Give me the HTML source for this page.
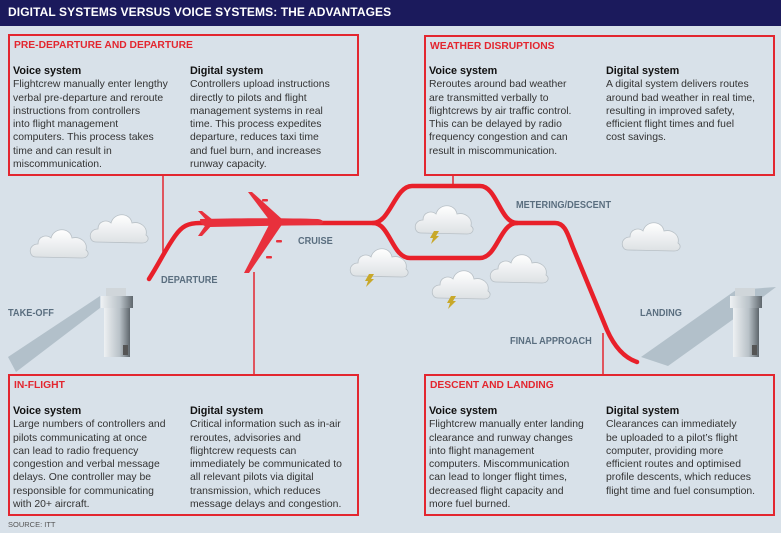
<!DOCTYPE html>
<html><head><meta charset="utf-8"><style>
body{margin:0;width:784px;height:533px;background:#fff;overflow:hidden;font-family:"Liberation Sans",sans-serif}
#bg{position:absolute;left:0;top:0;width:781px;height:533px;background:#d8e1e9}
#title{position:absolute;left:0;top:0;width:781px;height:26px;background:#1b1a5c;color:#fff;font-weight:bold;font-size:12px;line-height:24px;padding-left:8px;box-sizing:border-box;letter-spacing:0.1px}
.box{position:absolute;border:2px solid #e3262f;box-sizing:border-box}
.h{position:absolute;left:4px;top:4px;color:#e3262f;font-weight:bold;font-size:10.3px}
.col{position:absolute;top:29px;font-size:10.4px;line-height:13.3px;color:#333;white-space:nowrap}
.col b{color:#111;font-size:10.8px}
.lbl{position:absolute;color:#5a6e7f;font-weight:bold;font-size:10px;transform:scaleX(0.92);transform-origin:left}
svg{position:absolute;left:0;top:0}
</style></head><body>
<div id="bg"></div>
<div id="title">DIGITAL SYSTEMS VERSUS VOICE SYSTEMS: THE ADVANTAGES</div>
<svg width="784" height="533">
<defs>
<linearGradient id="cg" x1="0" y1="0" x2="0" y2="1"><stop offset="0" stop-color="#fff"/><stop offset="1" stop-color="#dde1e4"/></linearGradient>
<g id="cl"><path d="M6 30 C-2 30 -2 17 8 17 C8 9 17 7 21 11 C24 0 40 0 42 11 C50 9 58 15 56 23 C60 26 58 31 52 31 Z" fill="url(#cg)" stroke="#b8c0c6" stroke-width="0.8"/></g>
<g id="bolt"><path d="M4 0 L9 0 L6 5 L9 5 L1 13 L3 7 L0 7 Z" fill="#c8a82a"/></g>
<linearGradient id="tw" x1="0" y1="0" x2="1" y2="0"><stop offset="0" stop-color="#eef1f3"/><stop offset="0.6" stop-color="#b9c2c8"/><stop offset="1" stop-color="#5e666c"/></linearGradient>
</defs>
<g stroke="#e3262f" stroke-width="1.5">
<line x1="163" y1="175" x2="163" y2="253"/>
<line x1="453" y1="175" x2="453" y2="186"/>
<line x1="254" y1="272" x2="254" y2="374"/>
<line x1="603" y1="333" x2="603" y2="374"/>
</g>
<polygon points="8,357 16,372 100,308 100,296" fill="#a9b8c2" opacity="0.8"/>
<polygon points="641,357 668,366 735,318 776,287 736,290" fill="#a9b8c2" opacity="0.8"/>
<g>
<rect x="101" y="296" width="32" height="12" fill="url(#tw)"/>
<rect x="106" y="288" width="20" height="8" fill="#d0d6da"/>
<rect x="104" y="308" width="26" height="49" fill="url(#tw)"/>
<rect x="123" y="345" width="5" height="10" fill="#555"/>
</g>
<g>
<rect x="730" y="296" width="32" height="12" fill="url(#tw)"/>
<rect x="735" y="288" width="20" height="8" fill="#d0d6da"/>
<rect x="733" y="308" width="26" height="49" fill="url(#tw)"/>
<rect x="752" y="345" width="5" height="10" fill="#555"/>
</g>
<use href="#cl" x="30" y="227"/>
<use href="#cl" x="90" y="212"/>
<use href="#cl" x="415" y="203"/><use href="#bolt" x="430" y="231"/>
<use href="#cl" x="350" y="246"/><use href="#bolt" x="365" y="274"/>
<use href="#cl" x="432" y="268"/><use href="#bolt" x="447" y="296"/>
<use href="#cl" x="490" y="252"/>
<use href="#cl" x="622" y="220"/>
<g fill="none" stroke="#e8202a" stroke-width="4.5" stroke-linecap="round">
<path d="M149 279 C160 262 165 250 175 236 C182 226 188 223 200 223 L373 223 C390 223 395 186 412 186 L480 186 C497 186 500 223 517 223 L555 223 C566 223 568 236 574 250 L607 330 C615 348 625 358 637 362"/>
<path d="M373 223 C390 223 392 258 410 258 L480 258 C497 258 500 223 517 223"/>
</g>
<g fill="#e8303c">
<path d="M200 219 C240 218 290 218 318 219 C325 220 325 224 318 225 L210 227 C204 227 200 224 200 219 Z"/>
<path d="M248 192 L252 192 L283 220 L270 221 Z"/>
<path d="M270 223 L283 223 L249 273 L244 273 Z"/>
<path d="M198 211 L202 211 L213 220 L207 221 Z"/>
<path d="M207 223 L213 224 L202 236 L198 236 Z"/>
<rect x="262" y="199" width="6" height="2.5" rx="1"/>
<rect x="276" y="240" width="6" height="2.5" rx="1"/>
<rect x="266" y="256" width="6" height="2.5" rx="1"/>
</g>
</svg>
<div class="lbl" style="left:161px;top:275px">DEPARTURE</div>
<div class="lbl" style="left:298px;top:236px">CRUISE</div>
<div class="lbl" style="left:516px;top:200px">METERING/DESCENT</div>
<div class="lbl" style="left:8px;top:308px">TAKE-OFF</div>
<div class="lbl" style="left:640px;top:308px">LANDING</div>
<div class="lbl" style="left:510px;top:336px">FINAL APPROACH</div>

<div class="box" style="left:8px;top:34px;width:351px;height:142px">
<div class="h">PRE-DEPARTURE AND DEPARTURE</div>
<div class="col" style="left:3px"><b>Voice system</b><br>Flightcrew manually enter lengthy<br>verbal pre-departure and reroute<br>instructions from controllers<br>into flight management<br>computers. This process takes<br>time and can result in<br>miscommunication.</div>
<div class="col" style="left:180px"><b>Digital system</b><br>Controllers upload instructions<br>directly to pilots and flight<br>management systems in real<br>time. This process expedites<br>departure, reduces taxi time<br>and fuel burn, and increases<br>runway capacity.</div>
</div>
<div class="box" style="left:424px;top:35px;width:351px;height:141px">
<div class="h">WEATHER DISRUPTIONS</div>
<div class="col" style="left:3px;top:28px"><b>Voice system</b><br>Reroutes around bad weather<br>are transmitted verbally to<br>flightcrews by air traffic control.<br>This can be delayed by radio<br>frequency congestion and can<br>result in miscommunication.</div>
<div class="col" style="left:180px;top:28px"><b>Digital system</b><br>A digital system delivers routes<br>around bad weather in real time,<br>resulting in improved safety,<br>efficient flight times and fuel<br>cost savings.</div>
</div>
<div class="box" style="left:8px;top:374px;width:351px;height:142px">
<div class="h">IN-FLIGHT</div>
<div class="col" style="left:3px"><b>Voice system</b><br>Large numbers of controllers and<br>pilots communicating at once<br>can lead to radio frequency<br>congestion and verbal message<br>delays. One controller may be<br>responsible for communicating<br>with 20+ aircraft.</div>
<div class="col" style="left:180px"><b>Digital system</b><br>Critical information such as in-air<br>reroutes, advisories and<br>flightcrew requests can<br>immediately be communicated to<br>all relevant pilots via digital<br>transmission, which reduces<br>message delays and congestion.</div>
</div>
<div class="box" style="left:424px;top:374px;width:351px;height:142px">
<div class="h">DESCENT AND LANDING</div>
<div class="col" style="left:3px"><b>Voice system</b><br>Flightcrew manually enter landing<br>clearance and runway changes<br>into flight management<br>computers. Miscommunication<br>can lead to longer flight times,<br>decreased flight capacity and<br>more fuel burned.</div>
<div class="col" style="left:180px"><b>Digital system</b><br>Clearances can immediately<br>be uploaded to a pilot’s flight<br>computer, providing more<br>efficient routes and optimised<br>profile descents, which reduces<br>flight time and fuel consumption.</div>
</div>
<div style="position:absolute;left:8px;top:520px;font-size:7.5px;color:#555">SOURCE: ITT</div>
</body></html>
